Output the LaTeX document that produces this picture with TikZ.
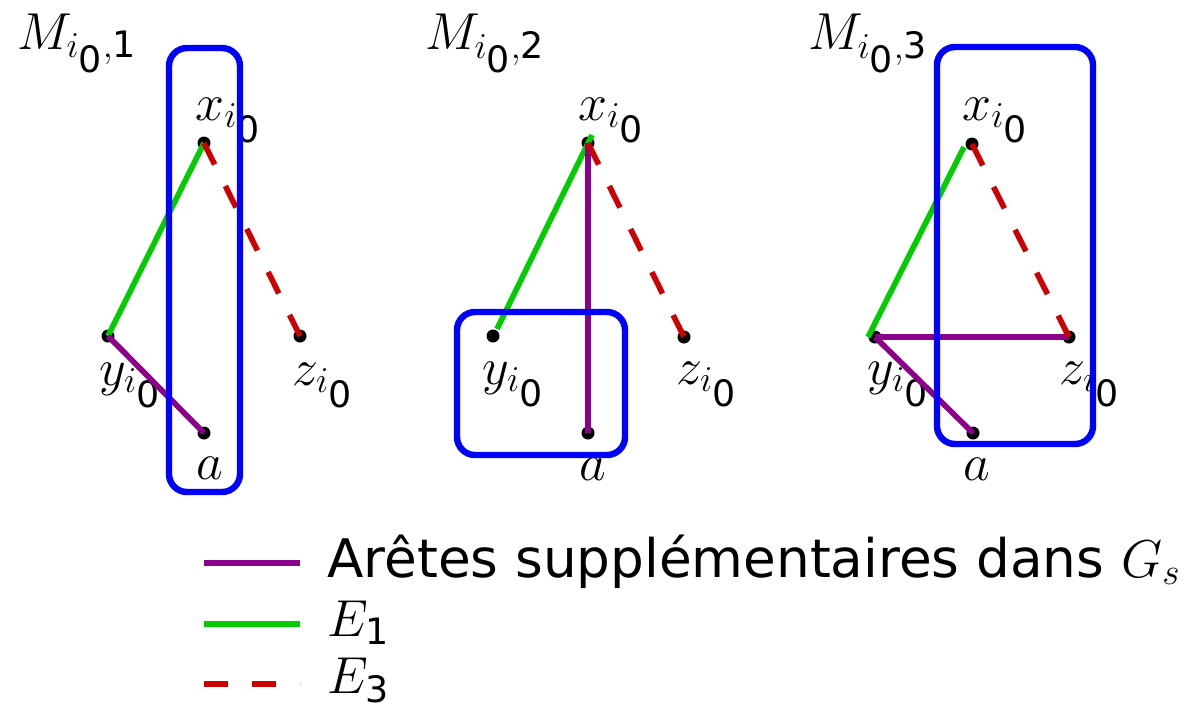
\documentclass[tikz,border=0pt]{standalone}
\usepackage{fix-cm}
\usepackage{amsmath}
\usepackage{fontspec}
\setsansfont{DejaVu Sans}
\newcommand\sdig[1]{\text{\sffamily #1}}
\newcommand\zsub{_{\scriptstyle\sdig{0}}}
\definecolor{egreen}{RGB}{0,204,0}
\definecolor{ered}{RGB}{204,0,0}
\definecolor{epurple}{RGB}{139,0,139}
\definecolor{eblue}{RGB}{0,0,255}
\begin{document}
\begin{tikzpicture}[x=0.5pt,y=-0.5pt,font=\fontsize{26}{31}\selectfont,
  dot/.style={circle,fill=black,inner sep=0pt,minimum size=6.5pt},
  lbl/.style={anchor=base west,inner sep=0pt},
  grp/.style={draw=eblue,line width=3.2pt,rounded corners=9pt},
  eone/.style={draw=egreen,line width=2.8pt},
  ethree/.style={draw=ered,line width=2.8pt,dash pattern=on 12pt off 12pt},
  extra/.style={draw=epurple,line width=2.8pt}]
\useasboundingbox (0,0) rectangle (1189,709);
% ---------- panel 1 ----------
\node[dot] (x1) at (204,143) {};
\node[dot] (y1) at (108,336) {};
\node[dot] (z1) at (300,336) {};
\node[dot] (a1) at (204,433) {};
\node[lbl] (m1) at (17,49) {$M_{i\zsub,\sdig{1}}$};
\node[lbl] (lx1) at (195,120) {$x_{i\zsub}$};
\node[lbl] (ly1) at (99,385) {$y_{i\zsub}$};
\node[lbl] (lz1) at (292,385) {$z_{i\zsub}$};
\node[lbl] (la1) at (196,479) {$a$};
\draw[eone] (x1.center) -- (y1.center);
\draw[extra] (y1.center) -- (a1.center);
\draw[ethree] (x1.center) -- (z1.center);
\draw[grp] (169,48) rectangle (240,492);
% ---------- panel 2 ----------
\node[dot] (x2) at (588,143) {};
\node[dot] (y2) at (493,336) {};
\node[dot] (z2) at (684,337) {};
\node[dot] (a2) at (588,433) {};
\node[lbl] (m2) at (425,49) {$M_{i\zsub,\sdig{2}}$};
\node[lbl] (lx2) at (578,120) {$x_{i\zsub}$};
\node[lbl] (ly2) at (482,384) {$y_{i\zsub}$};
\node[lbl] (lz2) at (676,384) {$z_{i\zsub}$};
\node[lbl] (la2) at (579,480) {$a$};
\draw[eone] ([shift={(4,-8)}]x2.center) -- ([shift={(4,-7)}]y2.center);
\draw[extra] (x2.center) -- (a2.center);
\draw[ethree] (x2.center) -- (z2.center);
\draw[grp] (457,312) rectangle (625,455);
% ---------- panel 3 ----------
\node[dot] (x3) at (972,144) {};
\node[dot] (y3) at (875,337) {};
\node[dot] (z3) at (1069,337) {};
\node[dot] (a3) at (973,433) {};
\node[lbl] (m3) at (808,49) {$M_{i\zsub,\sdig{3}}$};
\node[lbl] (lx3) at (962,120) {$x_{i\zsub}$};
\node[lbl] (ly3) at (867,384) {$y_{i\zsub}$};
\node[lbl] (lz3) at (1059,384) {$z_{i\zsub}$};
\node[lbl] (la3) at (963,480) {$a$};
\draw[eone] ([shift={(-8,3)}]x3.center) -- ([shift={(-7,0)}]y3.center);
\draw[extra] (y3.center) -- (z3.center);
\draw[extra] (y3.center) -- (a3.center);
\draw[ethree] (x3.center) -- (z3.center);
\draw[grp] (937,47) rectangle (1093,444);
% ---------- legend ----------
\coordinate (p1) at (204,563); \coordinate (p2) at (300,563);
\coordinate (g1) at (204,624); \coordinate (g2) at (300,624);
\coordinate (r1) at (204,684); \coordinate (r2) at (300,684);
\draw[extra] (p1) -- (p2);
\draw[eone] (g1) -- (g2);
\draw[ethree] (r1) -- (r2);
\node[lbl,font=\fontsize{26.6}{31}\selectfont] (t1) at (327,577) {\sffamily Arêtes supplémentaires dans $G_s$};
\node[lbl] (t2) at (327,636) {$E_{\sdig{1}}$};
\node[lbl] (t3) at (327,693) {$E_{\sdig{3}}$};
\end{tikzpicture}
\end{document}
